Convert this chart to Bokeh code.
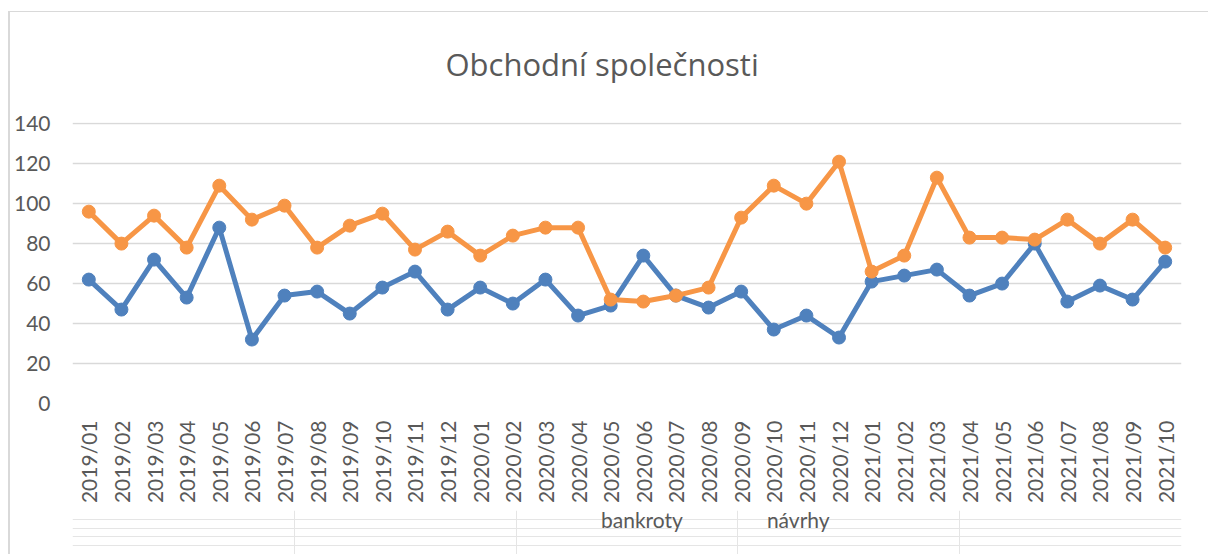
import math
from bokeh.plotting import figure
from bokeh.layouts import column
from bokeh.models import (ColumnDataSource, Legend, LegendItem,
                          FixedTicker, Range1d)
from bokeh.embed import file_html
from bokeh.resources import INLINE

months = ["2019/01", "2019/02", "2019/03", "2019/04", "2019/05", "2019/06",
          "2019/07", "2019/08", "2019/09", "2019/10", "2019/11", "2019/12",
          "2020/01", "2020/02", "2020/03", "2020/04", "2020/05", "2020/06",
          "2020/07", "2020/08", "2020/09", "2020/10", "2020/11", "2020/12",
          "2021/01", "2021/02", "2021/03", "2021/04", "2021/05", "2021/06",
          "2021/07", "2021/08", "2021/09", "2021/10"]
bankroty = [62, 47, 72, 53, 88, 32, 54, 56, 45, 58, 66, 47,
            58, 50, 62, 44, 49, 74, 54, 48, 56, 37, 44, 33,
            61, 64, 67, 54, 60, 80, 51, 59, 52, 71]
navrhy = [96, 80, 94, 78, 109, 92, 99, 78, 89, 95, 77, 86,
          74, 84, 88, 88, 52, 51, 54, 58, 93, 109, 100, 121,
          66, 74, 113, 83, 83, 82, 92, 80, 92, 78]
y_ticks = [0, 20, 40, 60, 80, 100, 120, 140]
title_text = "Obchodní společnosti"
series_names = ["bankroty", "návrhy"]

BLUE = "#4F81BD"
ORANGE = "#F79646"
TXT = "#595959"
FONT = "Lato"

src = ColumnDataSource(dict(m=months, b=bankroty, n=navrhy))

# ---------------- main chart ----------------
p = figure(width=1208, height=510,
           x_range=months, y_range=Range1d(0, 140.6),
           output_backend="svg", toolbar_location=None,
           title=title_text,
           min_border_left=72, min_border_right=27,
           min_border_top=122, min_border_bottom=107)
p.outline_line_color = None
p.background_fill_color = "white"
p.border_fill_color = None

p.title.text_font = "Open Sans"
p.title.text_font_size = "31px"
p.title.text_font_style = "normal"
p.title.text_color = TXT
p.title.align = "left"
p.title.offset = 373
p.title.standoff = 76

p.yaxis.ticker = FixedTicker(ticks=y_ticks)
for ax in (p.xaxis[0], p.yaxis[0]):
    ax.axis_line_color = None
    ax.major_tick_line_color = None
    ax.minor_tick_line_color = None
    ax.major_tick_out = 0
    ax.minor_tick_out = 0
    ax.major_label_text_font = FONT
    ax.major_label_text_font_size = "21px"
    ax.major_label_text_color = TXT
p.yaxis.major_label_standoff = 22
p.xaxis.major_label_standoff = 17
p.xaxis.major_label_orientation = math.pi / 2

p.xgrid.grid_line_color = None
p.ygrid.grid_line_color = "#D9D9D9"
p.ygrid.grid_line_width = 1.3

p.line("m", "b", source=src, line_color=BLUE, line_width=5, line_join="round")
p.scatter("m", "b", source=src, size=13, fill_color=BLUE, line_color=BLUE)
p.line("m", "n", source=src, line_color=ORANGE, line_width=5, line_join="round")
p.scatter("m", "n", source=src, size=13, fill_color=ORANGE, line_color=ORANGE)

# ---------------- legend strip ----------------
lg = figure(width=1208, height=44, x_range=Range1d(0, 1), y_range=Range1d(0, 1),
            output_backend="svg", toolbar_location=None,
            x_axis_location=None, y_axis_location=None,
            min_border_left=0, min_border_right=0,
            min_border_top=0, min_border_bottom=0)
lg.title = None
lg.outline_line_color = None
lg.background_fill_color = None
lg.border_fill_color = None

empty = ColumnDataSource(dict(x=[], y=[]))
lb1 = lg.line("x", "y", source=empty, line_color=BLUE, line_width=5)
lb2 = lg.scatter("x", "y", source=empty, size=13, fill_color=BLUE, line_color=BLUE)
lo1 = lg.line("x", "y", source=empty, line_color=ORANGE, line_width=5)
lo2 = lg.scatter("x", "y", source=empty, size=13, fill_color=ORANGE, line_color=ORANGE)

legend = Legend(items=[LegendItem(label=series_names[0], renderers=[lb1, lb2]),
                       LegendItem(label=series_names[1], renderers=[lo1, lo2])],
                orientation="horizontal", location=(469, 22),
                border_line_color=None, background_fill_alpha=0,
                padding=0, margin=0, spacing=24, glyph_width=56,
                glyph_height=20, label_height=20, label_standoff=4,
                label_text_font=FONT, label_text_font_size="21px",
                label_text_color=TXT)
lg.add_layout(legend, "center")

layout = column(p, lg, spacing=0)
# thin chart-area border (left and top) drawn behind the transparent canvases
layout.styles = {"box-shadow": "inset 8px 11px 0 0 white, inset 10px 12px 0 0 #D9D9D9"}

open("out.html", "w").write(file_html(layout, INLINE))
